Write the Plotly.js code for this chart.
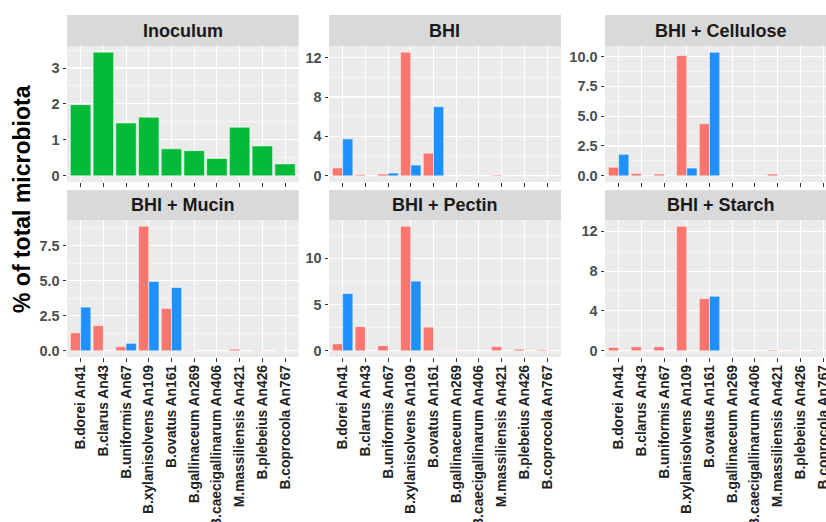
<!DOCTYPE html>
<html>
<head>
<meta charset="utf-8">
<script src="https://cdn.plot.ly/plotly-3.0.1.min.js"></script>
<style>html,body{margin:0;padding:0;background:#fff;}#chart{width:826px;height:522px;}</style>
</head>
<body>
<div id="chart"></div>
<script>
// ---- data ----
const categories = ["B.dorei An41","B.clarus An43","B.uniformis An67","B.xylanisolvens An109","B.ovatus An161","B.gallinaceum An269","B.caecigallinarum An406","M.massiliensis An421","B.plebeius An426","B.coprocola An767"];
const panelTitles = ["Inoculum","BHI","BHI + Cellulose","BHI + Mucin","BHI + Pectin","BHI + Starch"];

const inoculum = [1.98, 3.44, 1.47, 1.63, 0.75, 0.70, 0.48, 1.35, 0.83, 0.33];

const bhiRed  = [0.80, 0.12, 0.18, 12.55, 2.30, 0, 0, 0.08, 0, 0];
const bhiBlue = [3.75, 0, 0.28, 1.09, 7.02, 0, 0, 0, 0, 0];

const celluloseRed  = [0.72, 0.20, 0.15, 10.08, 4.36, 0, 0, 0.15, 0, 0];
const celluloseBlue = [1.80, 0, 0, 0.65, 10.36, 0, 0, 0, 0, 0];

const mucinRed  = [1.28, 1.80, 0.29, 8.90, 3.03, 0.04, 0, 0.12, 0.03, 0.04];
const mucinBlue = [3.12, 0, 0.53, 4.95, 4.52, 0, 0, 0, 0, 0];

const pectinRed  = [0.75, 2.60, 0.55, 13.45, 2.55, 0.05, 0, 0.45, 0.18, 0.10];
const pectinBlue = [6.18, 0, 0, 7.52, 0.05, 0, 0, 0, 0, 0];

const starchRed  = [0.34, 0.40, 0.40, 12.50, 5.24, 0.04, 0, 0.08, 0.04, 0.04];
const starchBlue = [0, 0, 0, 0, 5.47, 0, 0, 0, 0, 0];

const yDticks  = [1, 4, 2.5, 2.5, 5, 4];
const yFormats = ["d", "d", ".1f", ".1f", "d", "d"];

// ---- layout geometry (pixels) ----
const W = 826, H = 522;
const X = px => px / W, Y = py => 1 - py / H;
const cols = [[67, 298.7], [329, 561], [605, 836.7]];
const rows = [[46, 182], [220, 357]];
const strips = [[15, 46], [190, 220]];
const unitPx = (298.7 - 67) / 10.2;

const RED = "#F8766D", BLUE = "#1E90FF", GREEN = "#00BA38";
const FONT = "Liberation Sans, Arial, sans-serif";

const panels = [
  [inoculum],
  [bhiRed, bhiBlue],
  [celluloseRed, celluloseBlue],
  [mucinRed, mucinBlue],
  [pectinRed, pectinBlue],
  [starchRed, starchBlue]
];

const traces = [];
const layout = {
  width: W, height: H,
  margin: {l: 0, r: 0, t: 0, b: 0},
  paper_bgcolor: "#ffffff",
  plot_bgcolor: "#EBEBEB",
  barmode: "group",
  bargap: 0.1,
  bargroupgap: 0,
  showlegend: false,
  font: {family: FONT, color: "#1a1a1a"},
  shapes: [],
  annotations: []
};

panels.forEach((series, i) => {
  const r = Math.floor(i / 3), c = i % 3;
  const xn = i === 0 ? "x" : "x" + (i + 1);
  const yn = i === 0 ? "y" : "y" + (i + 1);
  const colors = series.length === 1 ? [GREEN] : [RED, BLUE];
  series.forEach((vals, k) => {
    traces.push({
      type: "bar", x: categories, y: vals, xaxis: xn, yaxis: yn,
      marker: {color: colors[k], line: {color: "#ffffff", width: 0.5}},
      hoverinfo: "x+y"
    });
  });
  const maxV = Math.max(...series.flat());
  const xEnd = Math.min(cols[c][1], W);
  const xr1 = -0.6 + (xEnd - cols[c][0]) / unitPx;
  layout["xaxis" + (i === 0 ? "" : i + 1)] = {
    domain: [X(cols[c][0]), X(xEnd)],
    anchor: yn,
    type: "category",
    categoryorder: "array", categoryarray: categories,
    range: [-0.6, xr1],
    showgrid: true, gridcolor: "#ffffff", gridwidth: 1.1,
    zeroline: false, showline: false,
    ticks: "outside", ticklen: 3.5, tickcolor: "#333333", tickwidth: 1,
    showticklabels: r === 1,
    tickangle: -90,
    ticklabelstandoff: -2,
    tickfont: {size: 13.8, color: "#222222", weight: "bold", family: FONT},
    fixedrange: true
  };
  layout["yaxis" + (i === 0 ? "" : i + 1)] = {
    domain: [Y(rows[r][1]), Y(rows[r][0])],
    anchor: xn,
    range: [-0.05 * maxV, 1.05 * maxV],
    dtick: yDticks[i], tick0: 0,
    tickformat: yFormats[i],
    showgrid: true, gridcolor: "#ffffff", gridwidth: 1.1,
    minor: {dtick: yDticks[i] / 2, tick0: 0, showgrid: true, gridcolor: "#ffffff", gridwidth: 0.5, ticks: ""},
    zeroline: false, showline: false,
    ticks: "outside", ticklen: 3.5, tickcolor: "#333333", tickwidth: 1,
    tickfont: {size: 14.5, color: "#4d4d4d", weight: "bold", family: FONT},
    fixedrange: true
  };
  // strip
  layout.shapes.push({
    type: "rect", xref: "paper", yref: "paper", layer: "below",
    x0: X(cols[c][0]), x1: X(Math.min(cols[c][1], W)),
    y0: Y(strips[r][1]), y1: Y(strips[r][0]),
    fillcolor: "#D9D9D9", line: {width: 0}
  });
  layout.annotations.push({
    xref: "paper", yref: "paper",
    x: X((cols[c][0] + cols[c][1]) / 2), y: Y((strips[r][0] + strips[r][1]) / 2),
    xanchor: "center", yanchor: "middle", showarrow: false,
    text: panelTitles[i],
    font: {size: 18, weight: "bold", color: "#1a1a1a", family: FONT}
  });
});

layout.annotations.push({
  xref: "paper", yref: "paper", x: X(22), y: Y(199),
  xanchor: "center", yanchor: "middle", showarrow: false,
  textangle: -90, text: "% of total microbiota",
  font: {size: 23, weight: "bold", color: "#000000", family: FONT}
});

Plotly.newPlot("chart", traces, layout, {displayModeBar: false, staticPlot: true});
</script>
</body>
</html>
